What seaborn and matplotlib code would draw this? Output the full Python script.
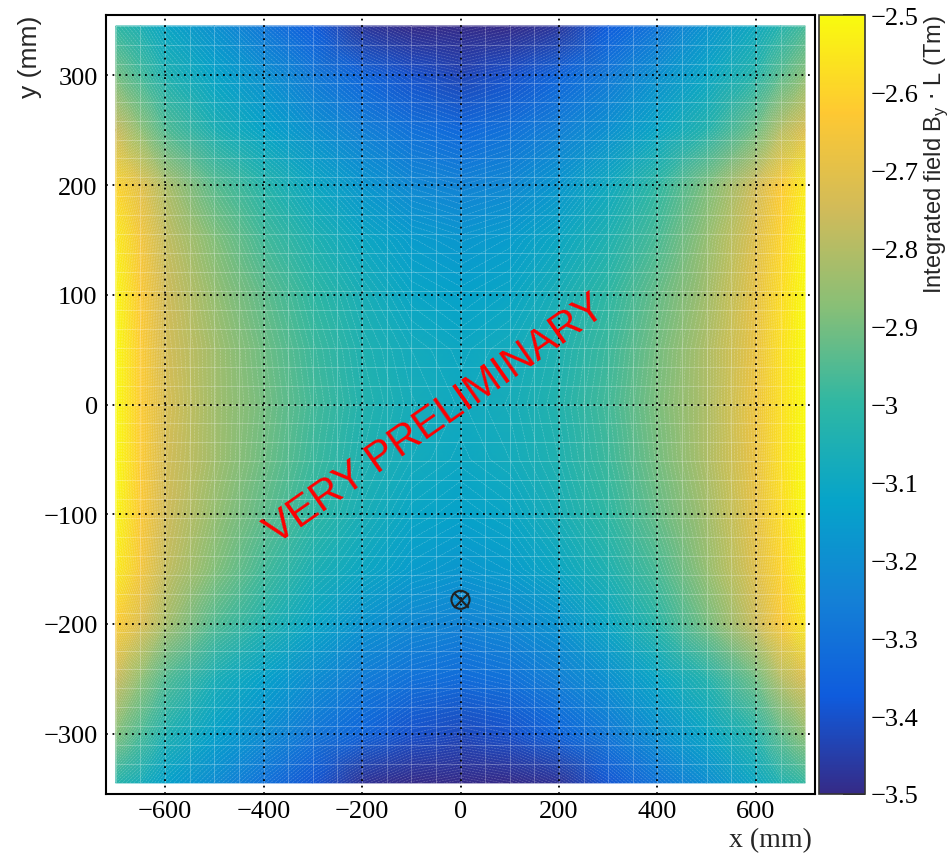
import numpy as np
import pandas as pd
import matplotlib
matplotlib.use("Agg")
import matplotlib.pyplot as plt
import seaborn as sns
from matplotlib.colors import LinearSegmentedColormap
from matplotlib.ticker import MultipleLocator, FixedLocator, FixedFormatter

# ---------------- data ----------------
x_mm = [-700, -650, -600, -500, -400, -300, -200, -100, 0, 100, 200, 300, 400, 500, 600, 650, 700]
y_mm = [345, 300, 250, 200, 150, 100, 50, 0, -50, -100, -150, -200, -250, -300, -345]

row_345 = [-3.00, -3.05, -3.11, -3.19, -3.28, -3.37, -3.47, -3.53, -3.56, -3.53, -3.47, -3.37, -3.28, -3.18, -3.09, -3.03, -2.97]
row_300 = [-2.90, -2.97, -3.04, -3.12, -3.19, -3.27, -3.34, -3.40, -3.43, -3.40, -3.34, -3.27, -3.19, -3.11, -3.02, -2.94, -2.87]
row_250 = [-2.76, -2.86, -2.95, -3.05, -3.12, -3.19, -3.25, -3.30, -3.33, -3.30, -3.25, -3.19, -3.11, -3.03, -2.91, -2.80, -2.72]
row_200 = [-2.60, -2.70, -2.81, -2.94, -3.02, -3.10, -3.17, -3.22, -3.24, -3.22, -3.17, -3.09, -3.00, -2.89, -2.75, -2.63, -2.54]
row_150 = [-2.54, -2.65, -2.77, -2.88, -2.97, -3.04, -3.10, -3.15, -3.17, -3.15, -3.10, -3.04, -2.96, -2.85, -2.71, -2.60, -2.51]
row_100 = [-2.51, -2.63, -2.75, -2.85, -2.93, -3.00, -3.06, -3.11, -3.13, -3.11, -3.06, -3.00, -2.92, -2.83, -2.69, -2.58, -2.50]
row_50 = [-2.50, -2.62, -2.74, -2.83, -2.91, -2.98, -3.04, -3.08, -3.10, -3.08, -3.04, -2.98, -2.90, -2.81, -2.68, -2.57, -2.50]
row_0 = [-2.50, -2.62, -2.73, -2.83, -2.90, -2.97, -3.03, -3.07, -3.09, -3.07, -3.03, -2.97, -2.89, -2.81, -2.67, -2.57, -2.50]
row_m50 = [-2.50, -2.62, -2.74, -2.83, -2.91, -2.98, -3.04, -3.08, -3.10, -3.08, -3.04, -2.98, -2.90, -2.81, -2.68, -2.57, -2.50]
row_m100 = [-2.51, -2.63, -2.75, -2.85, -2.93, -3.00, -3.06, -3.11, -3.13, -3.11, -3.06, -3.00, -2.92, -2.83, -2.69, -2.58, -2.50]
row_m150 = [-2.54, -2.65, -2.77, -2.88, -2.97, -3.05, -3.10, -3.15, -3.17, -3.15, -3.10, -3.04, -2.96, -2.85, -2.71, -2.60, -2.51]
row_m200 = [-2.62, -2.72, -2.82, -2.95, -3.03, -3.11, -3.18, -3.22, -3.24, -3.22, -3.18, -3.10, -3.01, -2.90, -2.76, -2.64, -2.55]
row_m250 = [-2.76, -2.86, -2.95, -3.06, -3.13, -3.20, -3.26, -3.30, -3.32, -3.30, -3.25, -3.19, -3.11, -3.03, -2.91, -2.80, -2.72]
row_m300 = [-2.88, -2.96, -3.04, -3.13, -3.20, -3.28, -3.34, -3.40, -3.42, -3.40, -3.34, -3.27, -3.19, -3.11, -3.02, -2.93, -2.86]
row_m345 = [-3.02, -3.07, -3.13, -3.21, -3.30, -3.39, -3.48, -3.54, -3.57, -3.54, -3.48, -3.39, -3.29, -3.20, -3.10, -3.04, -2.99]

marker_x = [0]
marker_y = [-178]

cbar_ticks = [-3.5, -3.4, -3.3, -3.2, -3.1, -3.0, -2.9, -2.8, -2.7, -2.6, -2.5]

Z = np.array([row_345, row_300, row_250, row_200, row_150, row_100, row_50, row_0,
              row_m50, row_m100, row_m150, row_m200, row_m250, row_m300, row_m345])
X, Y = np.meshgrid(np.array(x_mm, float), np.array(y_mm, float))

# ---------------- style ----------------
sns.set_style("white")
plt.rcParams['font.family'] = ['Liberation Serif', 'DejaVu Serif']
plt.rcParams['axes.unicode_minus'] = True

# ROOT kBird palette
stops = [0.0, 0.125, 0.25, 0.375, 0.5, 0.625, 0.75, 0.875, 1.0]
red = [0.2082, 0.0592, 0.0780, 0.0232, 0.1802, 0.5301, 0.8186, 0.9956, 0.9764]
green = [0.1664, 0.3599, 0.5041, 0.6419, 0.7178, 0.7492, 0.7328, 0.7862, 0.9832]
blue = [0.5293, 0.8684, 0.8385, 0.7914, 0.6425, 0.4662, 0.3499, 0.1968, 0.0539]
bird = LinearSegmentedColormap.from_list("bird", list(zip(stops, zip(red, green, blue))), N=512)

W, H = 950, 854
fig = plt.figure(figsize=(W / 100, H / 100), dpi=100)
ax = fig.add_axes([106 / W, 1 - 795 / H, 709 / W, 779 / H])
cax = fig.add_axes([819 / W, 1 - 795 / H, 46 / W, 779 / H])

Zc = np.clip(Z, -3.5, -2.5)
mesh = ax.pcolormesh(X, Y, Zc, cmap=bird, vmin=-3.5, vmax=-2.5, shading='gouraud', zorder=1)
ax.contour(X, Y, Z, levels=np.arange(-3.6, -2.4, 0.008), colors='white',
           linewidths=0.4, alpha=0.3, zorder=1.2)

# faint bin grid
for xv in np.arange(-700, 701, 50):
    ax.plot([xv, xv], [-345, 345], color='white', lw=0.6, alpha=0.3, zorder=1.3)
for yv in np.arange(-345, 345.1, 17.25):
    ax.plot([-700, 700], [yv, yv], color='white', lw=0.6, alpha=0.3, zorder=1.3)

ax.set_xlim(-720, 720)
ax.set_ylim(-355, 355)
ax.xaxis.set_major_locator(MultipleLocator(200))
ax.xaxis.set_minor_locator(MultipleLocator(50))
ax.yaxis.set_major_locator(MultipleLocator(100))
ax.yaxis.set_minor_locator(MultipleLocator(20))
ax.set_axisbelow(False)
ax.grid(True, which='major', color='black', linestyle=(0, (1, 2.6)), linewidth=1.3, zorder=2.5)
ax.tick_params(axis='both', which='major', direction='in', length=16, width=1.3,
               labelsize=19, colors='black', pad=6)
ax.tick_params(axis='both', which='minor', direction='in', length=8, width=1.2, colors='black')
ax.tick_params(axis='x', which='major', pad=4)
for s in ax.spines.values():
    s.set_visible(True)
    s.set_color('black')
    s.set_linewidth(1.5)

# marker
mdf = pd.DataFrame({"x": marker_x, "y": marker_y})
sns.scatterplot(data=mdf, x="x", y="y", ax=ax, marker='o', s=170, facecolors='none',
                edgecolor='#222222', linewidth=1.5, zorder=4, legend=False)
sns.scatterplot(data=mdf, x="x", y="y", ax=ax, marker='x', s=110, color='#222222',
                linewidth=1.5, zorder=4, legend=False)
ax.set_xlabel("")
ax.set_ylabel("")

# watermark
ax.text(-50, -13, "VERY PRELIMINARY", color='red', fontsize=30, rotation=35,
        ha='center', va='center', family=['Liberation Sans', 'DejaVu Sans'], zorder=5,
        rotation_mode='anchor')

# colorbar
cb = fig.colorbar(mesh, cax=cax)
cb.outline.set_edgecolor('#333333')
cb.outline.set_linewidth(1.2)
cax.yaxis.set_major_locator(FixedLocator(cbar_ticks))
cax.yaxis.set_major_formatter(FixedFormatter([f"{v:g}".replace('-', '\u2212') for v in cbar_ticks]))
cax.tick_params(axis='y', which='major', direction='in', length=16, width=1.3,
                labelsize=19, right=True, left=False, pad=4, colors='black')
cax.minorticks_off()

# axis titles
fig.text(812 / W, 1 - 841 / H, "x (mm)", ha='right', va='center', fontsize=20)
fig.text(30 / W, 1 - 16 / H, "y (mm)", ha='center', va='top', rotation=90, fontsize=19,
         family=['Liberation Sans', 'DejaVu Sans'])
fig.text(936 / W, 1 - 15 / H, r"Integrated field B$_\mathregular{y}$ $\cdot$ L (Tm)", ha='center', va='top',
         rotation=90, fontsize=17, family=['Liberation Sans', 'DejaVu Sans'])

fig.savefig("out.png", dpi=100, facecolor='white')
